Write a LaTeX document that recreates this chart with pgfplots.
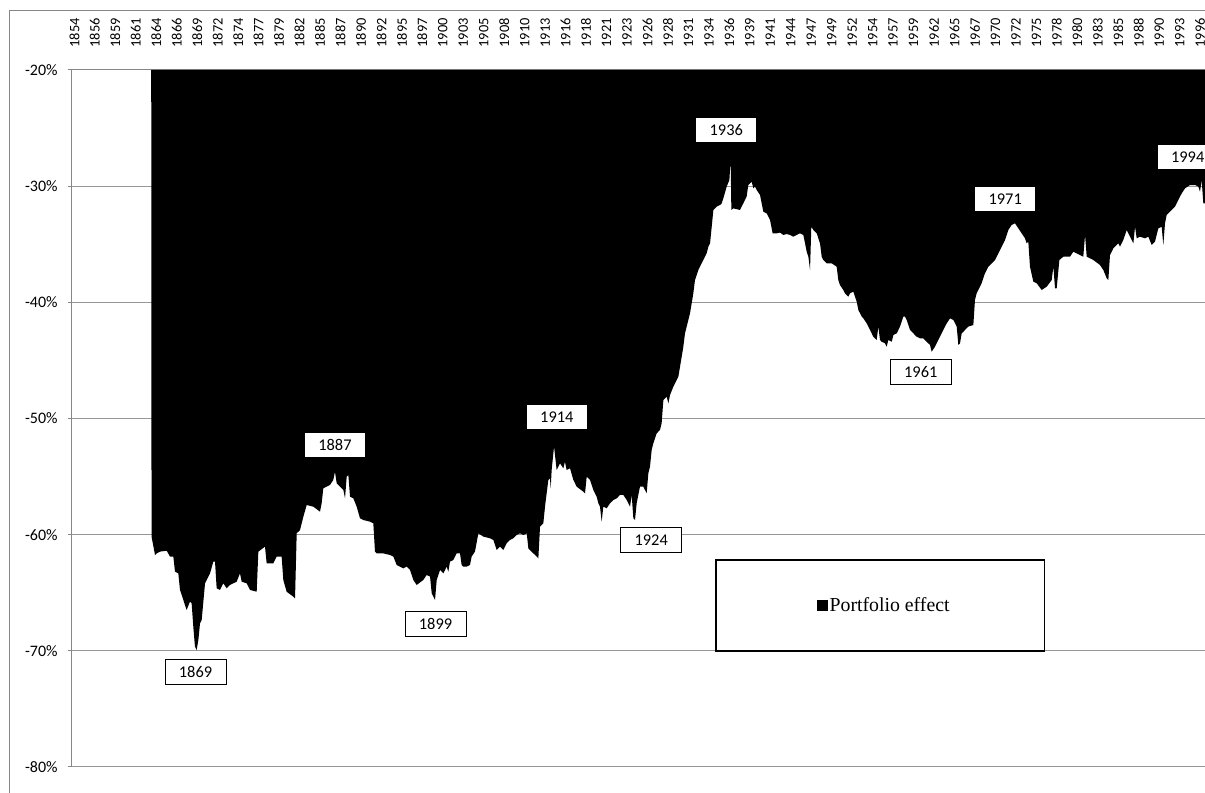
\documentclass[border=0pt]{standalone}
\usepackage{pgfplots}
\pgfplotsset{compat=1.18}
\usepackage{fontspec}
\setmainfont{Carlito}
\newfontfamily\seriffont{Liberation Serif}
\definecolor{axisgray}{RGB}{134,134,134}
\definecolor{gridgray}{RGB}{150,150,150}
\tikzset{yearbox/.style={draw=black, fill=white, line width=0.5pt, minimum width=30.5pt, minimum height=12.5pt, inner sep=0pt, font=\fontsize{8.2}{9.8}\selectfont}}

\pgfplotstableread{
year val
1864.00 -20
1864.04 -60.17
1864.48 -61.75
1864.69 -61.61
1865.11 -61.46
1865.95 -61.38
1866.37 -61.89
1866.79 -61.89
1867.00 -63.18
1867.42 -63.33
1867.63 -64.76
1868.05 -65.62
1868.47 -66.48
1868.89 -65.77
1869.10 -65.91
1869.31 -67.92
1869.52 -69.64
1869.73 -69.93
1869.95 -69.07
1870.16 -67.63
1870.37 -67.34
1870.79 -64.19
1871.42 -63.33
1871.84 -62.32
1872.05 -62.32
1872.26 -64.62
1872.68 -64.76
1873.10 -64.19
1873.52 -64.62
1873.94 -64.33
1874.78 -64.05
1875.20 -63.33
1875.42 -64.05
1876.05 -64.19
1876.47 -64.76
1877.31 -64.91
1877.52 -61.46
1878.36 -61.03
1878.57 -62.47
1879.41 -62.47
1879.83 -61.89
1880.46 -61.89
1880.67 -63.90
1881.09 -64.91
1881.94 -65.34
1882.15 -65.48
1882.36 -59.88
1882.78 -59.60
1883.20 -58.45
1883.62 -57.45
1884.46 -57.59
1885.30 -58.02
1885.51 -57.30
1885.72 -56.01
1886.56 -55.72
1886.98 -55.29
1887.19 -54.58
1887.41 -55.58
1887.83 -55.87
1888.25 -56.15
1888.46 -56.87
1888.67 -55.01
1888.88 -54.86
1889.09 -56.73
1889.51 -56.87
1889.93 -57.59
1890.35 -58.59
1890.77 -58.74
1891.61 -58.88
1892.03 -59.02
1892.24 -61.46
1892.45 -61.61
1893.29 -61.61
1894.14 -61.75
1894.56 -61.89
1894.98 -62.61
1895.82 -62.90
1896.24 -62.75
1896.66 -63.04
1897.08 -63.90
1897.50 -64.33
1898.34 -63.90
1898.76 -63.47
1899.19 -63.61
1899.40 -65.05
1899.82 -65.62
1900.03 -63.90
1900.45 -63.04
1900.87 -63.33
1901.29 -62.75
1901.50 -63.18
1901.71 -62.32
1902.13 -62.18
1902.55 -61.61
1902.97 -61.61
1903.18 -62.61
1903.39 -62.75
1903.81 -62.75
1904.23 -62.61
1904.44 -61.89
1904.86 -61.46
1905.29 -59.88
1905.92 -60.17
1906.76 -60.31
1907.18 -60.46
1907.60 -61.32
1908.02 -61.03
1908.44 -61.32
1908.86 -60.74
1909.28 -60.46
1909.70 -60.31
1910.12 -60.03
1910.54 -59.88
1910.97 -60.03
1911.39 -59.88
1911.60 -61.18
1912.23 -61.61
1912.65 -61.89
1912.86 -62.04
1913.07 -59.31
1913.49 -59.02
1913.70 -57.59
1914.12 -55.29
1914.33 -55.15
1914.42 -56.01
1914.54 -54.43
1914.84 -52.42
1915.17 -54.43
1915.59 -53.86
1916.01 -54.29
1916.22 -53.72
1916.43 -54.43
1916.86 -54.29
1917.28 -55.29
1917.70 -55.87
1918.54 -56.30
1918.75 -56.44
1918.96 -55.01
1919.38 -55.29
1919.80 -56.15
1920.22 -56.73
1920.43 -57.30
1920.64 -57.59
1920.85 -58.88
1921.06 -57.59
1921.48 -57.73
1921.90 -57.30
1922.32 -57.02
1922.75 -56.87
1923.17 -56.58
1923.59 -56.58
1924.01 -57.02
1924.43 -57.59
1924.64 -56.58
1924.85 -58.59
1925.06 -58.74
1925.27 -57.30
1925.69 -55.87
1926.11 -55.87
1926.53 -56.44
1926.74 -54.72
1926.95 -54.15
1927.16 -52.71
1927.37 -52.14
1927.79 -51.28
1928.21 -50.99
1928.42 -50.41
1928.64 -48.41
1929.06 -48.12
1929.27 -48.69
1929.48 -47.98
1929.90 -47.26
1930.11 -46.97
1930.53 -46.40
1930.74 -45.54
1930.95 -44.68
1931.16 -43.82
1931.37 -42.67
1931.58 -42.09
1931.79 -41.52
1932.00 -40.95
1932.21 -40.09
1932.42 -39.22
1932.63 -38.08
1932.84 -37.65
1933.05 -37.22
1933.26 -36.93
1933.68 -36.36
1934.10 -35.78
1934.32 -35.21
1934.53 -34.92
1934.74 -33.49
1934.95 -32.05
1935.37 -31.76
1935.79 -31.62
1936.00 -31.48
1936.21 -31.05
1936.63 -30.04
1936.97 -29.47
1937.13 -27.75
1937.22 -32.05
1937.47 -31.91
1938.31 -32.05
1938.52 -31.76
1938.73 -31.48
1939.15 -30.90
1939.36 -29.90
1939.78 -29.61
1940.00 -30.19
1940.21 -30.04
1940.42 -30.33
1940.84 -30.76
1941.05 -31.48
1941.26 -32.20
1941.68 -32.34
1942.10 -32.91
1942.43 -34.06
1942.94 -34.06
1943.36 -34.00
1943.78 -34.20
1944.20 -34.12
1944.62 -34.20
1945.04 -34.35
1945.46 -34.20
1945.88 -34.06
1946.30 -34.20
1946.52 -34.92
1946.73 -35.64
1946.94 -36.07
1947.15 -37.22
1947.31 -33.49
1947.57 -33.77
1947.99 -34.06
1948.41 -34.92
1948.62 -36.07
1948.83 -36.36
1949.25 -36.64
1949.88 -36.64
1950.51 -36.93
1950.72 -38.08
1950.93 -38.51
1951.35 -38.94
1951.56 -39.22
1951.98 -39.51
1952.20 -39.22
1952.62 -39.08
1952.83 -39.51
1953.04 -39.94
1953.25 -40.66
1953.67 -41.23
1953.88 -41.38
1954.30 -41.81
1954.72 -42.38
1955.14 -42.96
1955.56 -43.24
1955.77 -42.09
1955.98 -43.24
1956.19 -43.39
1956.61 -43.53
1956.82 -43.82
1957.03 -43.24
1957.46 -43.39
1957.67 -42.81
1958.09 -42.67
1958.51 -42.09
1958.93 -41.23
1959.14 -41.23
1959.35 -41.52
1959.77 -42.38
1960.19 -42.67
1960.61 -42.96
1961.03 -43.10
1961.45 -43.10
1961.87 -43.39
1962.29 -43.67
1962.50 -44.25
1962.92 -43.82
1963.55 -42.96
1963.97 -42.38
1964.40 -41.81
1964.82 -41.38
1965.24 -41.52
1965.66 -42.09
1965.87 -43.67
1966.08 -43.53
1966.29 -42.67
1966.71 -42.38
1967.13 -42.09
1967.76 -41.95
1967.97 -39.80
1968.18 -39.22
1968.60 -38.65
1968.81 -38.36
1969.23 -37.50
1969.66 -36.93
1970.08 -36.64
1970.50 -36.36
1970.92 -35.78
1971.34 -35.21
1971.76 -34.63
1972.18 -33.77
1972.60 -33.34
1973.02 -33.20
1973.44 -33.63
1973.86 -34.06
1974.28 -34.49
1974.49 -34.92
1974.70 -34.78
1974.91 -36.93
1975.33 -38.22
1975.76 -38.36
1976.39 -38.94
1977.02 -38.65
1977.65 -38.08
1977.86 -36.93
1978.07 -38.79
1978.28 -38.79
1978.62 -36.36
1979.12 -36.07
1979.96 -36.07
1980.38 -35.64
1981.22 -35.93
1981.64 -36.07
1981.86 -34.20
1982.07 -36.07
1982.91 -36.36
1983.75 -36.79
1984.17 -37.22
1984.59 -37.93
1984.80 -38.08
1985.01 -35.93
1985.43 -35.35
1986.06 -34.92
1986.27 -35.21
1986.69 -34.63
1987.12 -33.77
1987.54 -34.35
1987.96 -34.92
1988.17 -33.49
1988.38 -34.49
1988.80 -34.35
1989.43 -34.49
1989.85 -34.35
1990.27 -35.06
1990.69 -34.78
1991.11 -33.63
1991.53 -33.49
1991.74 -35.06
1991.95 -33.20
1992.16 -32.48
1992.58 -32.20
1993.21 -31.76
1993.63 -31.19
1994.06 -30.62
1994.48 -30.19
1995.11 -29.90
1995.74 -29.90
1996.16 -30.04
1996.37 -30.47
1996.58 -29.47
1996.79 -31.48
1997.00 -31.48
1998.00 -31.50
1998.00 -20
}\portfolio

\begin{document}
\begin{tikzpicture}
\begin{axis}[
  name=ax,
  scale only axis,
  width=570.46pt, height=348.5pt,
  xmin=1854, xmax=1998, ymin=-80, ymax=-20,
  clip=false,
  axis y line*=left,
  axis x line*=top,
  axis line style={draw=axisgray, line width=0.5pt},
  ymajorgrids,
  grid style={draw=gridgray, line width=0.5pt},
  ytick={-80,-70,-60,-50,-40,-30,-20},
  yticklabels={-80\%,-70\%,-60\%,-50\%,-40\%,-30\%,-20\%},
  yticklabel style={font=\fontsize{8}{9.6}\selectfont, inner sep=0pt, anchor=east, xshift=-5pt},
  ytick style={draw=axisgray, line width=0.5pt},
  tick align=outside,
  major tick length=2pt,
  xtick={1854,1856.5833,1859.1667,1861.75,1864.3333,1866.9167,1869.5,1872.0833,1874.6667,1877.25,1879.8333,1882.4167,1885,1887.5833,1890.1667,1892.75,1895.3333,1897.9167,1900.5,1903.0833,1905.6667,1908.25,1910.8333,1913.4167,1916,1918.5833,1921.1667,1923.75,1926.3333,1928.9167,1931.5,1934.0833,1936.6667,1939.25,1941.8333,1944.4167,1947,1949.5833,1952.1667,1954.75,1957.3333,1959.9167,1962.5,1965.0833,1967.6667,1970.25,1972.8333,1975.4167,1978,1980.5833,1983.1667,1985.75,1988.3333,1990.9167,1993.5,1996.0833},
  xticklabels={1854,1856,1859,1861,1864,1866,1869,1872,1874,1877,1879,1882,1885,1887,1890,1892,1895,1897,1900,1903,1905,1908,1910,1913,1916,1918,1921,1923,1926,1928,1931,1934,1936,1939,1941,1944,1947,1949,1952,1954,1957,1959,1962,1965,1967,1970,1972,1975,1978,1980,1983,1985,1988,1990,1993,1996},
  xtick style={draw=none},
  xticklabel style={font=\fontsize{7.2}{8.6}\selectfont, xshift=1.2pt, rotate=90, anchor=west, inner sep=0pt},
  xticklabel shift=9pt,
  legend style={at={(axis cs:1956.02,-66.12)}, anchor=center, draw=black, line width=0.85pt, fill=white,
    inner xsep=46.5pt, inner ysep=17.5pt, font=\seriffont\fontsize{9.9}{11.9}\selectfont,
    nodes={inner sep=1pt}},
  legend image code/.code={\path[draw=none,fill=none] (-4pt,0pt) rectangle (0pt,0pt); \fill[black,draw=none] (0pt,-2.65pt) rectangle (5.3pt,2.65pt);},
]
\addplot[fill=black, draw=none] table[x=year, y=val] {\portfolio};
\addlegendentry{Portfolio effect}

\node[yearbox] at (axis cs:1869.59,-71.82) {1869};
\node[yearbox] at (axis cs:1887.19,-52.25) {1887};
\node[yearbox] at (axis cs:1899.88,-67.69) {1899};
\node[yearbox] at (axis cs:1915.19,-49.91) {1914};
\node[yearbox] at (axis cs:1927.10,-60.46) {1924};
\node[yearbox] at (axis cs:1936.58,-25.18) {1936};
\node[yearbox] at (axis cs:1961.13,-45.97) {1961};
\node[yearbox] at (axis cs:1971.78,-31.12) {1971};
\node[yearbox] at (axis cs:1994.82,-27.53) {1994};

\draw[axisgray, line width=0.5pt] (axis cs:1846.17,-95) -- (axis cs:1846.17,-14.92) -- (axis cs:2010,-14.92);

\coordinate (bbsw) at (axis cs:1844.913,-82.237);
\coordinate (bbne) at (axis cs:1997.002,-13.974);
\end{axis}
\pgfresetboundingbox
\useasboundingbox (bbsw) rectangle (bbne);
\end{tikzpicture}
\end{document}
